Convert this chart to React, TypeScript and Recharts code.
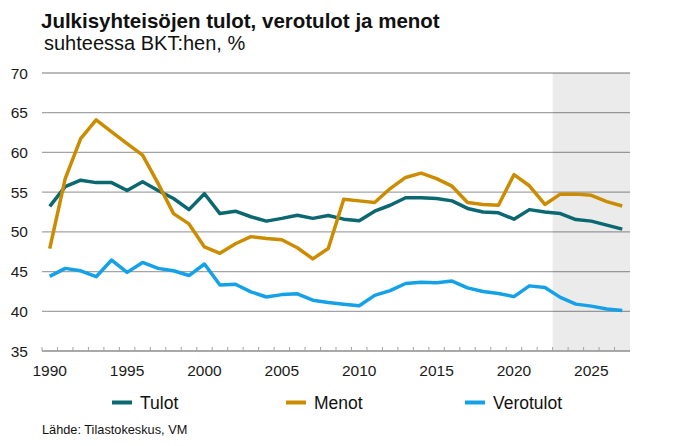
import React from 'react';
import { LineChart, Line, XAxis, YAxis, CartesianGrid, ReferenceArea } from 'recharts';

const years = [
  1990, 1991, 1992, 1993, 1994, 1995, 1996, 1997, 1998, 1999,
  2000, 2001, 2002, 2003, 2004, 2005, 2006, 2007, 2008, 2009,
  2010, 2011, 2012, 2013, 2014, 2015, 2016, 2017, 2018, 2019,
  2020, 2021, 2022, 2023, 2024, 2025, 2026, 2027,
];

const tulot = [
  53.2, 55.7, 56.5, 56.2, 56.2, 55.2, 56.3, 55.2, 54.2, 52.8,
  54.8, 52.3, 52.6, 51.9, 51.35, 51.7, 52.1, 51.7, 52.05, 51.6,
  51.4, 52.6, 53.35, 54.3, 54.3, 54.2, 53.9, 52.95, 52.5, 52.4,
  51.6, 52.8, 52.5, 52.3, 51.55, 51.35, 50.85, 50.35,
];

const menot = [
  47.9, 56.7, 61.75, 64.1, 62.6, 61.1, 59.65, 56.1, 52.3, 51.0,
  48.1, 47.3, 48.5, 49.4, 49.15, 49.0, 48.0, 46.6, 47.9, 54.1,
  53.9, 53.7, 55.45, 56.85, 57.4, 56.7, 55.75, 53.7, 53.45, 53.35,
  57.2, 55.8, 53.45, 54.75, 54.75, 54.6, 53.8, 53.25,
];

const verotulot = [
  44.4, 45.4, 45.1, 44.35, 46.45, 44.9, 46.15, 45.4, 45.1, 44.5,
  45.95, 43.3, 43.4, 42.45, 41.8, 42.1, 42.2, 41.4, 41.1, 40.9,
  40.7, 42.0, 42.6, 43.5, 43.65, 43.6, 43.8, 42.95, 42.5, 42.25,
  41.85, 43.2, 43.0, 41.75, 40.9, 40.65, 40.3, 40.1,
];

const yTicks = [35, 40, 45, 50, 55, 60, 65, 70];
const forecastStart = 2023;
const forecastEnd = 2027;

const title = 'Julkisyhteisöjen tulot, verotulot ja menot';
const subtitle = 'suhteessa BKT:hen, %';
const source = 'Lähde: Tilastokeskus, VM';

const series = [
  { key: 'tulot', name: 'Tulot', color: '#0B6871', legendX: 112 },
  { key: 'menot', name: 'Menot', color: '#CC8C00', legendX: 286 },
  { key: 'verotulot', name: 'Verotulot', color: '#14A1E8', legendX: 465 },
];

const data = years.map((year, i) => ({
  year,
  tulot: tulot[i],
  menot: menot[i],
  verotulot: verotulot[i],
}));

const FONT = '"Liberation Sans", Arial, sans-serif';
const AXIS_GRAY = '#A3A3A3';
const TICK_MARGIN = 14;

const XTick = (props: any) => {
  const { x, y, payload } = props;
  const off = payload && typeof payload.offset === 'number' ? payload.offset : 0;
  const axisY = y - TICK_MARGIN;
  const v = payload.value;
  return (
    <g>
      <line x1={x - off} x2={x - off} y1={axisY - 4} y2={axisY} stroke={AXIS_GRAY} strokeWidth={1} />
      {v % 5 === 0 && (
        <text x={x} y={y} dy="0.71em" textAnchor="middle" fontSize={15.5} fill="#1a1a1a" fontFamily={FONT}>
          {v}
        </text>
      )}
    </g>
  );
};

export default function App() {
  return (
    <div style={{ position: 'absolute', left: 0, top: 0, width: 680, height: 446, background: '#fff', fontFamily: FONT }}>
      <LineChart
        width={680}
        height={446}
        data={data}
        margin={{ top: 73, right: 50, left: 0, bottom: 65 }}
        style={{ position: 'absolute', left: 0, top: 0 }}
      >
        <ReferenceArea x1={forecastStart} x2={forecastEnd} fill="#000000" fillOpacity={0.08} stroke="none" ifOverflow="visible" />
        <CartesianGrid vertical={false} stroke={AXIS_GRAY} strokeWidth={1.3} />
        <XAxis
          dataKey="year"
          type="category"
          scale="band"
          interval={0}
          tickLine={false}
          tickSize={0}
          tickMargin={TICK_MARGIN}
          height={30}
          axisLine={{ stroke: AXIS_GRAY, strokeWidth: 1.3 }}
          tick={<XTick />}
        />
        <YAxis
          type="number"
          domain={[35, 70]}
          ticks={yTicks}
          interval={0}
          width={42}
          axisLine={false}
          tickLine={false}
          tickSize={6}
          tickMargin={8}
          tick={{ fontSize: 15.5, fill: '#1a1a1a', fontFamily: FONT }}
        />
        {series.map((s) => (
          <Line
            key={s.key}
            type="linear"
            dataKey={s.key}
            name={s.name}
            stroke={s.color}
            strokeWidth={3.5}
            dot={false}
            activeDot={false}
            strokeLinejoin="round"
            isAnimationActive={false}
          />
        ))}
      </LineChart>
      <svg width={680} height={446} style={{ position: 'absolute', left: 0, top: 0, pointerEvents: 'none' }}>
        <text x={41} y={27.5} fontSize={20.5} fontWeight="bold" fill="#111" fontFamily={FONT}>{title}</text>
        <text x={44} y={50} fontSize={20} fill="#111" fontFamily={FONT}>{subtitle}</text>
        {series.map((s) => (
          <g key={s.key}>
            <line x1={s.legendX} x2={s.legendX + 20} y1={402.5} y2={402.5} stroke={s.color} strokeWidth={4} />
            <text x={s.legendX + 28} y={409} fontSize={17.5} fill="#111" fontFamily={FONT}>{s.name}</text>
          </g>
        ))}
        <text x={42} y={434} fontSize={12.75} fill="#111" fontFamily={FONT}>{source}</text>
      </svg>
    </div>
  );
}
